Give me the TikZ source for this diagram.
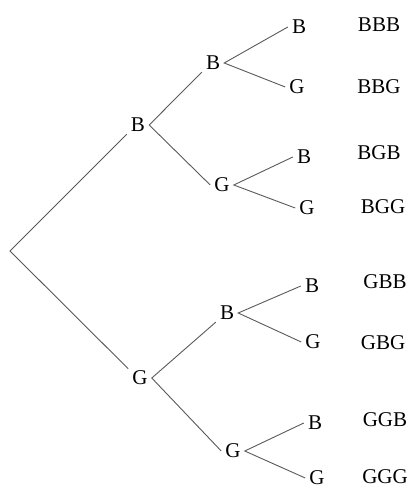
\documentclass[tikz,border=0pt]{standalone}
\usepackage{fontspec}
\setmainfont{Liberation Serif}
\begin{document}
\begin{tikzpicture}[x=1pt,y=1pt,
  lbl/.style={inner xsep=4pt,inner ysep=2pt,font=\fontsize{21}{24}\selectfont,text=black},
  outc/.style={inner sep=0pt,font=\fontsize{21}{24}\selectfont,text=black},
  br/.style={draw=black!65,line width=0.9pt}]
\useasboundingbox (0,0) rectangle (409,-489);
\coordinate (root) at (10,-251);
\node[lbl] (b1) at (138,-125) {B};
\node[lbl] (g1) at (140,-378) {G};
\node[lbl] (bb) at (213,-63) {B};
\node[lbl] (bg) at (222,-185) {G};
\node[lbl] (gb) at (227,-313) {B};
\node[lbl] (gg) at (233,-451) {G};
\node[lbl] (bbb) at (299,-27) {B};
\node[lbl] (bbg) at (297,-87) {G};
\node[lbl] (bgb) at (304,-157) {B};
\node[lbl] (bgg) at (307,-208) {G};
\node[lbl] (gbb) at (312,-286) {B};
\node[lbl] (gbg) at (313,-342) {G};
\node[lbl] (ggb) at (315,-423) {B};
\node[lbl] (ggg) at (317,-478) {G};
\node[outc] (o1) at (379,-25) {BBB};
\node[outc] (o2) at (379,-87) {BBG};
\node[outc] (o3) at (379,-153) {BGB};
\node[outc] (o4) at (383,-207) {BGG};
\node[outc] (o5) at (385,-282) {GBB};
\node[outc] (o6) at (383,-343) {GBG};
\node[outc] (o7) at (385,-420) {GGB};
\node[outc] (o8) at (385,-477) {GGG};
\draw[br] (b1.south west) -- (root) -- (g1.north west);
\draw[br] (bb.south west) -- (b1.east) -- (bg.west);
\draw[br] (gb.south west) -- (g1.east) -- (gg.west);
\draw[br] (bbb.west) -- (bb.east) -- (bbg.west);
\draw[br] (bgb.west) -- (bg.east) -- (bgg.west);
\draw[br] (gbb.west) -- (gb.east) -- (gbg.west);
\draw[br] (ggb.west) -- (gg.east) -- (ggg.west);
\end{tikzpicture}
\end{document}
